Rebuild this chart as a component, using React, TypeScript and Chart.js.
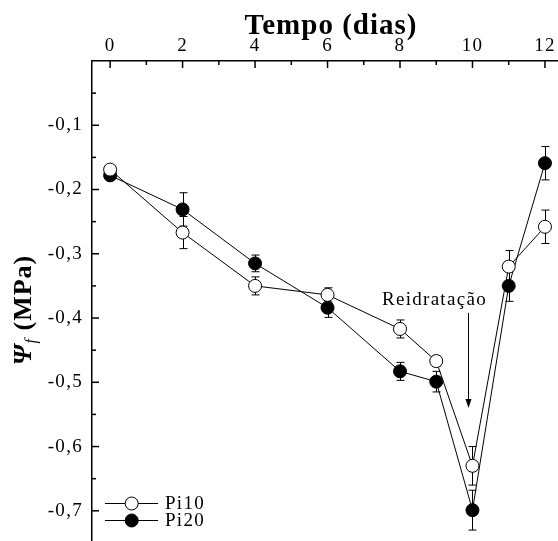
import React, { useEffect, useRef } from 'react';
import { Chart, registerables } from 'chart.js';

Chart.register(...registerables);

// ---- data ----
const days = [0, 2, 4, 6, 8, 9, 10, 11, 12];
const pi10 = [-0.169, -0.267, -0.35, -0.364, -0.417, -0.467, -0.63, -0.32, -0.258];
const pi10Err = [0.004, 0.025, 0.014, 0.011, 0.014, 0.008, 0.03, 0.025, 0.026];
const pi20 = [-0.178, -0.231, -0.315, -0.384, -0.483, -0.499, -0.699, -0.35, -0.159];
const pi20Err = [0.004, 0.026, 0.013, 0.015, 0.014, 0.016, 0.031, 0.024, 0.026];
const seriesNames = ['Pi10', 'Pi20'];

const xTickValues = [0, 1, 2, 3, 4, 5, 6, 7, 8, 9, 10, 11, 12];
const xMajorLabels = ['0', '2', '4', '6', '8', '10', '12'];
const yTickValues = [-0.05, -0.1, -0.15, -0.2, -0.25, -0.3, -0.35, -0.4, -0.45, -0.5, -0.55, -0.6, -0.65, -0.7];
const yMajorLabels = ['-0,1', '-0,2', '-0,3', '-0,4', '-0,5', '-0,6', '-0,7'];

const xTitle = 'Tempo (dias)';
const yTitleSymbol = 'Ψ';
const yTitleSub = 'f';
const yTitleUnit = ' (MPa)';
const annotationText = 'Reidratação';
const annotationPos = { x: 8.95, y: -0.372 };
const arrowFrom = { x: 9.88, y: -0.392 };
const arrowTo = { x: 9.88, y: -0.54 };

const FONT = '"Liberation Serif", "Times New Roman", "DejaVu Serif", serif';
const SPACING = '1.3px';
const SMALL = 19;

const errorSets = [pi10Err, pi20Err];

function isMajorY(v: number) {
  return Math.abs(Math.round(v * 10) - v * 10) < 1e-6;
}

const decor = {
  id: 'decor',
  beforeLayout(chart: any) {
    chart.ctx.letterSpacing = SPACING;
  },
  beforeDraw(chart: any) {
    chart.ctx.letterSpacing = SPACING;
  },
  beforeDatasetsDraw(chart: any) {
    const ctx = chart.ctx;
    const xs = chart.scales.x;
    const ys = chart.scales.y;
    ctx.save();
    ctx.strokeStyle = '#000';
    ctx.lineWidth = 1;
    chart.data.datasets.forEach((ds: any, i: number) => {
      const errs = errorSets[i];
      ds.data.forEach((p: any, j: number) => {
        const px = Math.round(xs.getPixelForValue(p.x)) + 0.5;
        const y1 = ys.getPixelForValue(p.y + errs[j]);
        const y2 = ys.getPixelForValue(p.y - errs[j]);
        ctx.beginPath();
        ctx.moveTo(px, y1);
        ctx.lineTo(px, y2);
        ctx.moveTo(px - 4, y1);
        ctx.lineTo(px + 4, y1);
        ctx.moveTo(px - 4, y2);
        ctx.lineTo(px + 4, y2);
        ctx.stroke();
      });
    });
    ctx.restore();
  },
  afterDraw(chart: any) {
    const ctx = chart.ctx;
    const xs = chart.scales.x;
    const ys = chart.scales.y;
    const area = chart.chartArea;
    ctx.save();
    ctx.strokeStyle = '#000';
    ctx.fillStyle = '#000';
    ctx.lineWidth = 1.5;
    // inward ticks
    xs.ticks.forEach((t: any) => {
      const px = xs.getPixelForValue(t.value);
      const len = t.value % 2 === 0 ? 7 : 4;
      ctx.beginPath();
      ctx.moveTo(px, area.top);
      ctx.lineTo(px, area.top + len);
      ctx.stroke();
    });
    ys.ticks.forEach((t: any) => {
      const py = ys.getPixelForValue(t.value);
      const len = isMajorY(t.value) ? 7 : 4;
      ctx.beginPath();
      ctx.moveTo(area.left, py);
      ctx.lineTo(area.left + len, py);
      ctx.stroke();
    });

    // x title
    ctx.letterSpacing = '1px';
    ctx.font = `bold 29px ${FONT}`;
    ctx.textAlign = 'center';
    ctx.textBaseline = 'alphabetic';
    ctx.fillText(xTitle, 331, 34);

    // y title (rotated)
    ctx.save();
    ctx.translate(24, 310);
    ctx.rotate(-Math.PI / 2);
    ctx.textAlign = 'left';
    ctx.textBaseline = 'middle';
    const f1 = `italic bold 26px ${FONT}`;
    const f2 = `italic 16px ${FONT}`;
    const f3 = `bold 26px ${FONT}`;
    ctx.font = f1;
    const w1 = ctx.measureText(yTitleSymbol).width;
    ctx.font = f2;
    const w2 = ctx.measureText(yTitleSub).width;
    ctx.font = f3;
    const w3 = ctx.measureText(yTitleUnit).width;
    let cx = -(w1 + w2 + w3) / 2;
    ctx.font = f1;
    ctx.fillText(yTitleSymbol, cx, 0);
    cx += w1;
    ctx.font = f2;
    ctx.fillText(yTitleSub, cx, 8);
    cx += w2;
    ctx.font = f3;
    ctx.fillText(yTitleUnit, cx, 0);
    ctx.restore();

    // annotation
    ctx.letterSpacing = SPACING;
    ctx.font = `${SMALL}px ${FONT}`;
    ctx.textAlign = 'center';
    ctx.textBaseline = 'middle';
    ctx.fillText(annotationText, xs.getPixelForValue(annotationPos.x), ys.getPixelForValue(annotationPos.y));
    const ax = Math.round(xs.getPixelForValue(arrowFrom.x)) + 0.5;
    const ay1 = ys.getPixelForValue(arrowFrom.y);
    const ay2 = ys.getPixelForValue(arrowTo.y);
    ctx.lineWidth = 1;
    ctx.beginPath();
    ctx.moveTo(ax, ay1);
    ctx.lineTo(ax, ay2 - 6);
    ctx.stroke();
    ctx.beginPath();
    ctx.moveTo(ax, ay2);
    ctx.lineTo(ax - 3, ay2 - 9);
    ctx.lineTo(ax + 3, ay2 - 9);
    ctx.closePath();
    ctx.fill();

    // legend
    const rows = [503, 520];
    ctx.textAlign = 'left';
    ctx.font = `${SMALL}px ${FONT}`;
    seriesNames.forEach((name, i) => {
      const y = rows[i] + 0.5;
      ctx.lineWidth = 1;
      ctx.beginPath();
      ctx.moveTo(105, y);
      ctx.lineTo(158, y);
      ctx.stroke();
      ctx.beginPath();
      ctx.arc(131.7, y, 6.5, 0, Math.PI * 2);
      ctx.fillStyle = i === 0 ? '#fff' : '#000';
      ctx.fill();
      ctx.stroke();
      ctx.fillStyle = '#000';
      ctx.fillText(name, 165, y + 1);
    });
    ctx.restore();
  },
};

export default function App() {
  const ref = useRef<HTMLCanvasElement>(null);
  useEffect(() => {
    if (!ref.current) return;
    const mk = (ys: number[]) => days.map((d, i) => ({ x: d, y: ys[i] }));
    const chart = new Chart(ref.current, {
      type: 'line',
      data: {
        datasets: [
          {
            label: seriesNames[0],
            data: mk(pi10),
            borderColor: '#000',
            borderWidth: 1,
            pointRadius: 6.5,
            pointBackgroundColor: '#fff',
            pointBorderColor: '#000',
            pointBorderWidth: 1,
            tension: 0,
            fill: false,
          },
          {
            label: seriesNames[1],
            data: mk(pi20),
            borderColor: '#000',
            borderWidth: 1,
            pointRadius: 6.5,
            pointBackgroundColor: '#000',
            pointBorderColor: '#000',
            pointBorderWidth: 1,
            tension: 0,
            fill: false,
          },
        ],
      },
      options: {
        animation: false,
        responsive: false,
        devicePixelRatio: 1,
        layout: { padding: 0, autoPadding: false },
        plugins: { legend: { display: false }, tooltip: { enabled: false } },
        scales: {
          x: {
            type: 'linear',
            position: 'top',
            min: -0.5,
            max: 12.36,
            grid: { display: false, drawTicks: false },
            border: { display: true, color: '#000', width: 1.5 },
            afterBuildTicks: (s: any) => {
              s.ticks = xTickValues.map((v) => ({ value: v }));
            },
            afterFit: (s: any) => {
              s.height = 61;
              s.paddingLeft = 0;
              s.paddingRight = 0;
            },
            ticks: {
              autoSkip: false,
              maxRotation: 0,
              padding: 4,
              color: '#000',
              font: { family: FONT, size: SMALL },
              callback: (v: any) => (Number(v) % 2 === 0 ? xMajorLabels[Number(v) / 2] : ''),
            },
          },
          y: {
            type: 'linear',
            min: -0.747,
            max: 0,
            grid: { display: false, drawTicks: false },
            border: { display: true, color: '#000', width: 1.5 },
            afterBuildTicks: (s: any) => {
              s.ticks = yTickValues.map((v) => ({ value: v }));
            },
            afterFit: (s: any) => {
              s.width = 92;
              s.paddingTop = 0;
              s.paddingBottom = 0;
            },
            ticks: {
              autoSkip: false,
              padding: 9,
              color: '#000',
              font: { family: FONT, size: SMALL },
              callback: (v: any) => {
                const n = Number(v);
                if (!isMajorY(n)) return '';
                const idx = Math.round(-n * 10) - 1;
                return yMajorLabels[idx] ?? '';
              },
            },
          },
        },
      },
      plugins: [decor],
    } as any);
    return () => chart.destroy();
  }, []);
  return (
    <div style={{ position: 'fixed', left: 0, top: 0, width: 558, height: 541, overflow: 'hidden', background: '#fff' }}>
      <canvas ref={ref} width={558} height={541} style={{ display: 'block' }} />
    </div>
  );
}
